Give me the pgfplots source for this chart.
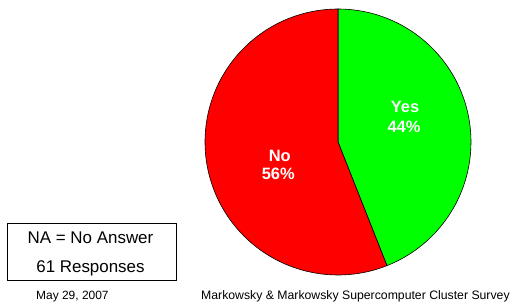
\documentclass[border=0pt]{standalone}
\usepackage{fontspec}
\setmainfont{Liberation Sans}
\usepackage{pgfplots}
\pgfplotsset{compat=1.18}
\definecolor{pieGreen}{RGB}{0,255,0}
\definecolor{pieRed}{RGB}{255,0,0}
\begin{document}
\begin{tikzpicture}
\path (0,0) rectangle (520bp,305bp);
\begin{axis}[at={(0,0)}, anchor=south west, scale only axis,
  width=520bp, height=305bp, xmin=0, xmax=520, ymin=0, ymax=305,
  hide axis, clip=false]
% Yes = 44 %, No = 56 % (cumulative 0..44 and 44..100), clockwise from top
\addplot[fill=pieGreen, draw=black, line width=0.6pt, domain=0:44, samples=90]
  ({338+133*sin(3.6*x)},{163+133*cos(3.6*x)}) -- (axis cs:338,163) -- cycle;
\addplot[fill=pieRed, draw=black, line width=0.6pt, domain=44:100, samples=110]
  ({338+133*sin(3.6*x)},{163+133*cos(3.6*x)}) -- (axis cs:338,163) -- cycle;
\node[anchor=base, text=white, font=\fontsize{16.5}{20}\selectfont\bfseries] at (axis cs:405,192.3) {Yes};
\node[anchor=base, text=white, font=\fontsize{16.5}{20}\selectfont\bfseries] at (axis cs:404,172.7) {44\%};
\node[anchor=base, text=white, font=\fontsize{16.5}{20}\selectfont\bfseries] at (axis cs:279.8,143.3) {No};
\node[anchor=base, text=white, font=\fontsize{16.5}{20}\selectfont\bfseries] at (axis cs:278.3,125) {56\%};
\node[draw=black, line width=0.7pt, minimum width=169bp, minimum height=57bp, inner sep=0pt] at (axis cs:91.5,53.5) {};
\node[anchor=base, font=\fontsize{17}{20}\selectfont] at (axis cs:90.5,61.7) {NA = No Answer};
\node[anchor=base, font=\fontsize{17}{20}\selectfont] at (axis cs:90.5,32.3) {61 Responses};
\node[anchor=base west, inner sep=0pt, font=\fontsize{12}{14}\selectfont] at (axis cs:36,6) {May 29, 2007};
\node[anchor=base west, inner sep=0pt, font=\fontsize{12.3}{14}\selectfont] at (axis cs:201,6) {Markowsky \& Markowsky Supercomputer Cluster Survey};
\end{axis}
\end{tikzpicture}
\end{document}
